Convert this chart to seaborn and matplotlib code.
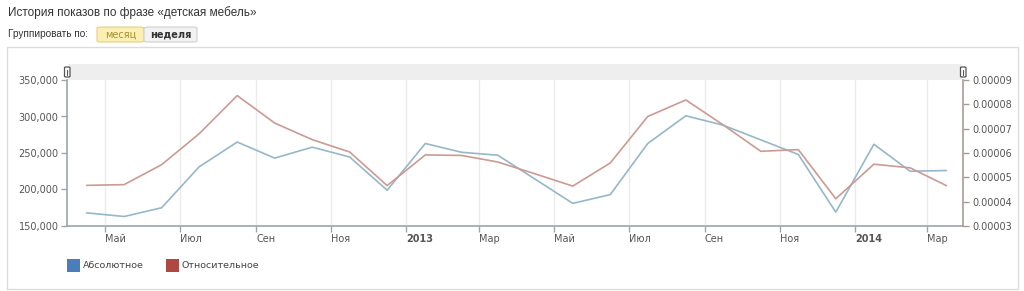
import numpy as np
import pandas as pd
import matplotlib
matplotlib.use("Agg")
import matplotlib.pyplot as plt
import matplotlib.transforms as mtransforms
from matplotlib.patches import Rectangle, FancyBboxPatch
import seaborn as sns

# ---- data ----
start_month = "2012-04-01"
n_months = 24
absolute = [168000, 163000, 175000, 231000, 265000, 243000, 258000, 244500,
            199000, 263000, 251000, 247000, 214000, 181000, 193000, 263000,
            301000, 288000, 268000, 248000, 169000, 262000, 225000, 226000]
relative = [4.67e-5, 4.70e-5, 5.52e-5, 6.79e-5, 8.36e-5, 7.23e-5, 6.55e-5, 6.04e-5,
            4.66e-5, 5.92e-5, 5.90e-5, 5.63e-5, 5.14e-5, 4.64e-5, 5.59e-5, 7.50e-5,
            8.18e-5, 7.15e-5, 6.07e-5, 6.14e-5, 4.12e-5, 5.54e-5, 5.39e-5, 4.66e-5]
tick_dates = ["2012-05-01", "2012-07-01", "2012-09-01", "2012-11-01", "2013-01-01",
              "2013-03-01", "2013-05-01", "2013-07-01", "2013-09-01", "2013-11-01",
              "2014-01-01", "2014-03-01"]
tick_labels = ["Май", "Июл", "Сен", "Ноя", "2013", "Мар", "Май", "Июл", "Сен",
               "Ноя", "2014", "Мар"]
left_ticks = [150000, 200000, 250000, 300000, 350000]
right_ticks = [0.00003, 0.00004, 0.00005, 0.00006, 0.00007, 0.00008, 0.00009]
series_names = ["Абсолютное", "Относительное"]
title_text = "История показов по фразе «детская мебель»"
group_label = "Группировать по:"
buttons = ["месяц", "неделя"]

months = pd.date_range(start_month, periods=n_months, freq="MS")
dates = months + pd.to_timedelta(months.days_in_month / 2.0, unit="D")
df = pd.DataFrame({"date": dates, "abs": absolute, "rel": relative})

sns.set_style("white")
plt.rcParams["font.family"] = ["DejaVu Sans"]

W, H = 1024, 291
fig = plt.figure(figsize=(W / 100, H / 100), dpi=100)

def fx(px):
    return px / W

def fy(py):
    return 1 - py / H

# panel box (behind everything)
fig.patches.append(Rectangle((fx(7), fy(289)), fx(1018 - 7), (289 - 47) / H,
                             transform=fig.transFigure, facecolor="white",
                             edgecolor="#dcdcdc", linewidth=1.0, zorder=-10))

# header text
hdr_font = ["Liberation Sans", "DejaVu Sans"]
fig.text(fx(8), fy(12.5), title_text, fontsize=8.5, color="#333333",
         ha="left", va="center", family=hdr_font)
fig.text(fx(8), fy(34), group_label, fontsize=7.2, color="#333333",
         ha="left", va="center", family=hdr_font)
# buttons
fig.patches.append(FancyBboxPatch((fx(97), fy(42)), fx(144 - 97), 15 / H,
                                  boxstyle="round,pad=0,rounding_size=0.004",
                                  transform=fig.transFigure, facecolor="#fbefb4",
                                  edgecolor="#e3cf86", linewidth=0.8, zorder=-5))
fig.patches.append(FancyBboxPatch((fx(144), fy(42)), fx(197 - 144), 15 / H,
                                  boxstyle="round,pad=0,rounding_size=0.004",
                                  transform=fig.transFigure, facecolor="#f2f2f2",
                                  edgecolor="#cfcfcf", linewidth=0.8, zorder=-5))
fig.text(fx(120.5), fy(34.5), buttons[0], fontsize=7, color="#a8902e",
         ha="center", va="center")
fig.text(fx(170.5), fy(34.5), buttons[1], fontsize=7, color="#333333",
         ha="center", va="center", fontweight="semibold")

# scrollbar band
fig.patches.append(Rectangle((fx(68), fy(80)), fx(962 - 68), 16 / H,
                             transform=fig.transFigure, facecolor="#eeeeee",
                             edgecolor="none", zorder=-5))

ax = fig.add_axes([fx(67), fy(226), fx(963 - 67), (226 - 80) / H])
ax2 = ax.twinx()
ax.patch.set_alpha(0)
ax2.patch.set_alpha(0)

blue_line = "#96b7ca"
red_line = "#cb9a92"
sns.lineplot(data=df, x="date", y="abs", ax=ax, color=blue_line, linewidth=1.2)
sns.lineplot(data=df, x="date", y="rel", ax=ax2, color=red_line, linewidth=1.2)

ax.set_xlim(pd.Timestamp("2012-03-31"), pd.Timestamp("2014-03-30"))
ax.set_ylim(150000, 350000)
ax2.set_ylim(0.00003, 0.00009)

tick_pos = pd.to_datetime(tick_dates)
ax.set_xticks(tick_pos)
ax.set_xticklabels(tick_labels)
offset = mtransforms.ScaledTranslation(3 / 100, 0, fig.dpi_scale_trans)
for lab in ax.get_xticklabels():
    lab.set_horizontalalignment("left")
    lab.set_transform(lab.get_transform() + offset)
    if lab.get_text().isdigit():
        lab.set_fontweight("bold")
        lab.set_color("#333333")

ax.set_yticks(left_ticks)
ax.set_yticklabels([f"{v:,}" for v in left_ticks])
ax2.set_yticks(right_ticks)
ax2.set_yticklabels([f"{v:.5f}" for v in right_ticks])

ax.xaxis.grid(True, color="#ebebeb", linewidth=1.0)
ax.yaxis.grid(False)
ax2.grid(False)
ax.set_axisbelow(True)

axis_col = "#9ca6ae"
right_col = "#aa9c92"
for a in (ax, ax2):
    a.set_xlabel("")
    a.set_ylabel("")
    a.spines["top"].set_visible(False)
ax.spines["right"].set_visible(False)
ax2.spines["left"].set_visible(False)
ax2.spines["bottom"].set_visible(False)
ax.spines["left"].set_color(axis_col)
ax.spines["bottom"].set_color(axis_col)
ax2.spines["right"].set_color(right_col)
for s in ("left", "bottom"):
    ax.spines[s].set_linewidth(1.2)
ax2.spines["right"].set_linewidth(1.2)

ax.tick_params(axis="x", length=4, width=1, color=axis_col, pad=2,
               labelsize=7, labelcolor="#555555", direction="out", bottom=True)
ax.tick_params(axis="y", length=4, width=1, color=axis_col, pad=2,
               labelsize=7, labelcolor="#555555", direction="out", left=True)
ax2.tick_params(axis="y", length=4, width=1, color=right_col, pad=3,
                labelsize=7, labelcolor="#555555", direction="out", right=True)

# scrollbar handles
for hx in (64.5, 960.5):
    fig.patches.append(FancyBboxPatch((fx(hx), fy(77)), fx(5.5), 10 / H,
                                      boxstyle="round,pad=0,rounding_size=0.002",
                                      transform=fig.transFigure, facecolor="white",
                                      edgecolor="#555555", linewidth=0.9, zorder=5))
    fig.lines.append(plt.Line2D([fx(hx + 2.75), fx(hx + 2.75)], [fy(74.5), fy(69.5)],
                                transform=fig.transFigure, color="#555555",
                                linewidth=0.8, zorder=6))

# legend
leg_colors = ["#4a7ebb", "#b04842"]
leg_x = [67, 166]
for name, col, lx in zip(series_names, leg_colors, leg_x):
    fig.patches.append(Rectangle((fx(lx), fy(272)), fx(13), 13 / H,
                                 transform=fig.transFigure, facecolor=col,
                                 edgecolor="none"))
    fig.text(fx(lx + 16), fy(265.5), name, fontsize=6.8, color="#444444",
             ha="left", va="center")

fig.savefig("out.png", dpi=100)
